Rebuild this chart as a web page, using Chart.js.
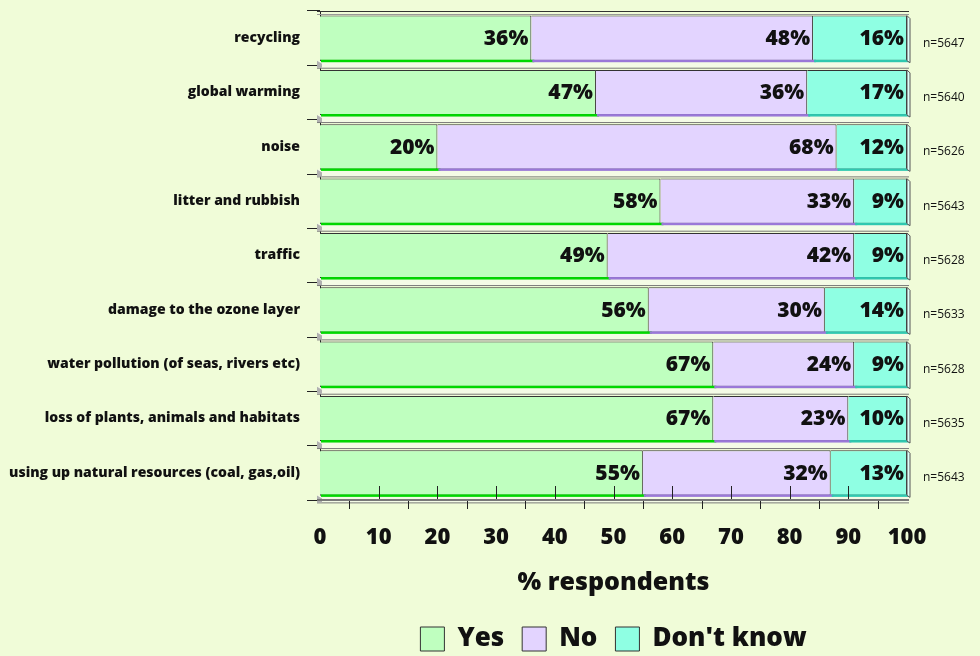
<!DOCTYPE html>
<html>
<head>
<meta charset="utf-8">
<script src="https://cdn.jsdelivr.net/npm/chart.js@4.4.1/dist/chart.umd.min.js"></script>
<style>
  html, body { margin: 0; padding: 0; background: #F0FCD8; }
  #wrap { width: 980px; height: 656px; }
</style>
</head>
<body>
<div id="wrap"><canvas id="c" width="980" height="656"></canvas></div>
<script>
const categories = [
  "recycling",
  "global warming",
  "noise",
  "litter and rubbish",
  "traffic",
  "damage to the ozone layer",
  "water pollution (of seas, rivers etc)",
  "loss of plants, animals and habitats",
  "using up natural resources (coal, gas,oil)"
];
const yesValues = [36, 47, 20, 58, 49, 56, 67, 67, 55];
const noValues  = [48, 36, 68, 33, 42, 30, 24, 23, 32];
const dkValues  = [16, 17, 12, 9, 9, 14, 9, 10, 13];
const nLabels = ["n=5647","n=5640","n=5626","n=5643","n=5628","n=5633","n=5628","n=5635","n=5643"];
const xTicks = [0,10,20,30,40,50,60,70,80,90,100];

const FONT = "'Open Sans', Lato, sans-serif";
const sideColors = ["#00D800", "#9A78D8", "#30C8B0"];

const decor = {
  id: 'decor',
  beforeDatasetsDraw(chart) {
    const ctx = chart.ctx, ca = chart.chartArea;
    const meta = chart.getDatasetMeta(0);
    ctx.save();
    meta.data.forEach((bar) => {
      const bottom = bar.y + bar.height / 2;
      ctx.fillStyle = "#F4FBE6";
      ctx.fillRect(ca.left - 3, bottom, ca.right - ca.left + 5, 7);
      ctx.strokeStyle = "#7A7A7A";
      ctx.lineWidth = 1;
      ctx.beginPath();
      ctx.moveTo(ca.left - 3, bottom + 7.5);
      ctx.lineTo(ca.right + 2, bottom + 7.5);
      ctx.stroke();
      ctx.fillStyle = "#B0B0B0";
      ctx.beginPath();
      ctx.moveTo(ca.left - 3, bottom);
      ctx.lineTo(ca.left + 2, bottom + 3);
      ctx.lineTo(ca.left + 2, bottom + 7);
      ctx.lineTo(ca.left - 3, bottom + 7);
      ctx.closePath();
      ctx.fill();
    });
    ctx.strokeStyle = "#333";
    ctx.beginPath();
    ctx.moveTo(ca.left - 3, ca.top + 0.5);
    ctx.lineTo(ca.right + 2, ca.top + 0.5);
    ctx.stroke();
    ctx.strokeStyle = "#999";
    ctx.beginPath();
    ctx.moveTo(ca.left - 3, ca.top + 3.5);
    ctx.lineTo(ca.right + 2, ca.top + 3.5);
    ctx.stroke();
    ctx.restore();
  },
  afterDatasetsDraw(chart) {
    const ctx = chart.ctx, ca = chart.chartArea;
    const xs = chart.scales.x;
    ctx.save();
    chart.data.datasets.forEach((ds, di) => {
      const meta = chart.getDatasetMeta(di);
      meta.data.forEach((bar) => {
        const left = bar.base, right = bar.x;
        const bottom = bar.y + bar.height / 2;
        ctx.fillStyle = sideColors[di];
        ctx.fillRect(left + 1, bottom - 1, right - left + 2, 2.5);
        if (di === 2) {
          ctx.fillStyle = "#DFFFF8";
          ctx.strokeStyle = "#555";
          ctx.lineWidth = 1;
          ctx.beginPath();
          ctx.moveTo(right, bar.y - bar.height / 2);
          ctx.lineTo(right + 3, bar.y - bar.height / 2 + 3);
          ctx.lineTo(right + 3, bottom + 2);
          ctx.lineTo(right, bottom);
          ctx.closePath();
          ctx.fill();
          ctx.stroke();
        }
      });
    });
    ctx.font = "800 21px " + FONT;
    ctx.fillStyle = "#111";
    ctx.textAlign = "right";
    ctx.textBaseline = "middle";
    chart.data.datasets.forEach((ds, di) => {
      const meta = chart.getDatasetMeta(di);
      meta.data.forEach((bar, i) => {
        ctx.fillText(ds.data[i] + "%", bar.x - 3, bar.y + 1);
      });
    });
    ctx.font = "12px " + FONT;
    ctx.textAlign = "left";
    const m0 = chart.getDatasetMeta(0);
    m0.data.forEach((bar, i) => {
      ctx.fillText(nLabels[i], ca.right + 16, bar.y + 5);
    });
    ctx.strokeStyle = "#222";
    ctx.lineWidth = 1;
    for (let v = 10; v <= 90; v += 10) {
      const x = Math.round(xs.getPixelForValue(v)) + 0.5;
      ctx.beginPath(); ctx.moveTo(x, ca.bottom - 14); ctx.lineTo(x, ca.bottom); ctx.stroke();
    }
    for (let v = 5; v <= 95; v += 10) {
      const x = Math.round(xs.getPixelForValue(v)) + 0.5;
      ctx.beginPath(); ctx.moveTo(x, ca.bottom + 1); ctx.lineTo(x, ca.bottom + 9); ctx.stroke();
    }
    ctx.strokeStyle = "#777";
    ctx.lineWidth = 2;
    ctx.beginPath(); ctx.moveTo(ca.left - 3, ca.bottom); ctx.lineTo(ca.right + 2, ca.bottom); ctx.stroke();
    ctx.restore();
  }
};

new Chart(document.getElementById('c'), {
  type: 'bar',
  data: {
    labels: categories,
    datasets: [
      { label: 'Yes', data: yesValues, backgroundColor: '#BFFFBF', borderColor: '#333', borderWidth: 1 },
      { label: 'No', data: noValues, backgroundColor: '#E3D4FF', borderColor: '#333', borderWidth: 1 },
      { label: "Don't know", data: dkValues, backgroundColor: '#8FFFE3', borderColor: '#333', borderWidth: 1 }
    ]
  },
  options: {
    indexAxis: 'y',
    responsive: false,
    animation: false,
    layout: { padding: { top: 11, right: 73, left: 0, bottom: -6 } },
    datasets: { bar: { barPercentage: 0.83, categoryPercentage: 1.0 } },
    scales: {
      x: {
        stacked: true,
        min: 0, max: 100,
        afterBuildTicks(scale) { scale.ticks = xTicks.map(v => ({ value: v })); },
        afterFit(scale) { scale.height = 108; scale.paddingLeft = 0; scale.paddingRight = 0; },
        grid: { display: false, drawTicks: false },
        border: { display: false },
        ticks: { padding: 25, color: '#111', font: { family: FONT, weight: 800, size: 22 } },
        title: { display: true, text: '% respondents', color: '#111',
                 font: { family: FONT, weight: 800, size: 25 }, padding: { top: 10, bottom: 10 } }
      },
      y: {
        stacked: true,
        afterFit(scale) { scale.width = 320; scale.paddingTop = 0; scale.paddingBottom = 0; },
        grid: { display: true, drawOnChartArea: false, drawTicks: true, tickLength: 13, color: '#222' },
        border: { display: true, color: '#222', width: 1 },
        ticks: { padding: 7, color: '#111', font: { family: FONT, weight: 800, size: 14 } }
      }
    },
    plugins: {
      legend: {
        position: 'bottom',
        fullSize: false,
        labels: {
          boxWidth: 24, boxHeight: 24, padding: 18, color: '#111',
          font: { family: FONT, weight: 800, size: 26 }
        }
      },
      tooltip: { enabled: false }
    }
  },
  plugins: [decor]
});
</script>
</body>
</html>
